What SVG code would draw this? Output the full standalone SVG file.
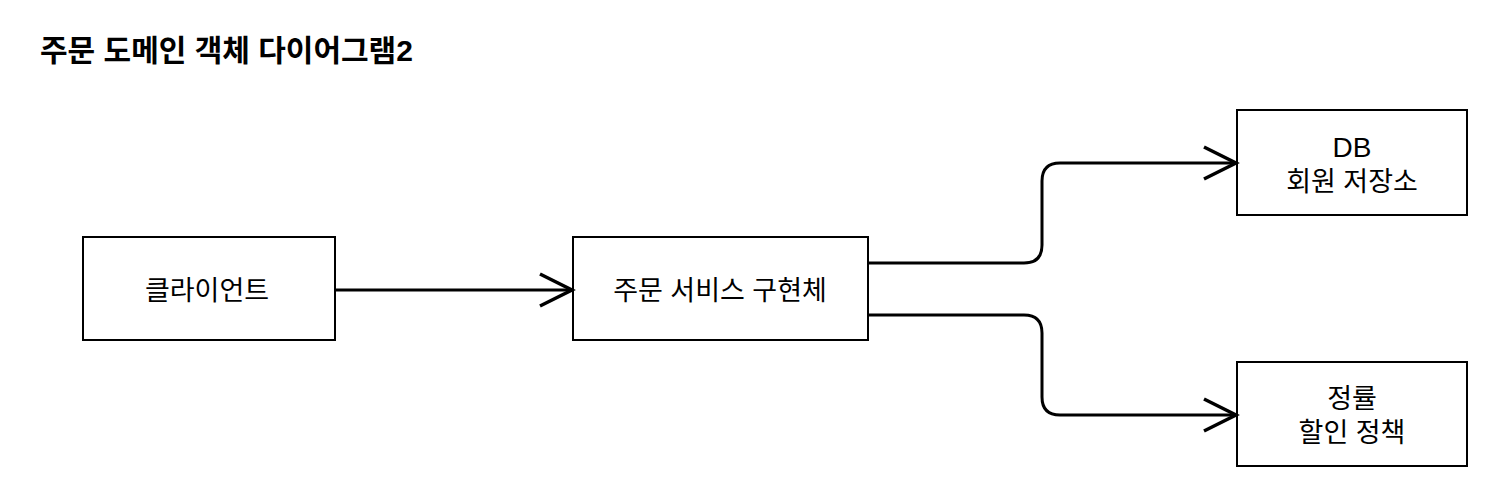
<svg xmlns="http://www.w3.org/2000/svg" width="1497" height="488" viewBox="0 0 1497 488">
  <style>
    .box { fill: #ffffff; stroke: #000000; stroke-width: 2; }
    .lbl { font-family: "Liberation Sans", "Noto Sans CJK KR", sans-serif; font-size: 27px; fill: #000000; text-anchor: middle; }
    .title { font-family: "Liberation Sans", "Noto Sans CJK KR", sans-serif; font-size: 30px; font-weight: bold; fill: #000000; }
    .edge { fill: none; stroke: #000000; stroke-width: 3; stroke-linejoin: round; }
  </style>
  <defs>
    <marker id="open" markerUnits="userSpaceOnUse" markerWidth="40" markerHeight="40" refX="34" refY="18" orient="auto">
      <path d="M2,2 L34,18 L2,34" fill="none" stroke="#000000" stroke-width="3.5"/>
    </marker>
  </defs>
  <rect width="1497" height="488" fill="#ffffff"/>
  <text class="title" x="40" y="61">주문 도메인 객체 다이어그램2</text>

  <g id="client">
    <rect class="box" x="83" y="237" width="252" height="103"/>
    <text class="lbl" x="207" y="300">클라이언트</text>
  </g>
  <g id="service">
    <rect class="box" x="573" y="237" width="295" height="103"/>
    <text class="lbl" x="720" y="300">주문 서비스 구현체</text>
  </g>
  <g id="db">
    <rect class="box" x="1237" y="110" width="230" height="105"/>
    <text class="lbl" x="1352" y="157" style="font-size:28px">DB</text>
    <text class="lbl" x="1352" y="191">회원 저장소</text>
  </g>
  <g id="rate">
    <rect class="box" x="1237" y="362" width="230" height="104"/>
    <text class="lbl" x="1352" y="408">정률</text>
    <text class="lbl" x="1352" y="442">할인 정책</text>
  </g>

  <g id="connectors">
    <path class="edge" d="M336,290 H572" marker-end="url(#open)"/>
    <path class="edge" d="M869,263 H1024 Q1042,263 1042,245 V181 Q1042,163 1060,163 H1236" marker-end="url(#open)"/>
    <path class="edge" d="M869,315 H1024 Q1042,315 1042,333 V397 Q1042,415 1060,415 H1236" marker-end="url(#open)"/>
  </g>
</svg>
